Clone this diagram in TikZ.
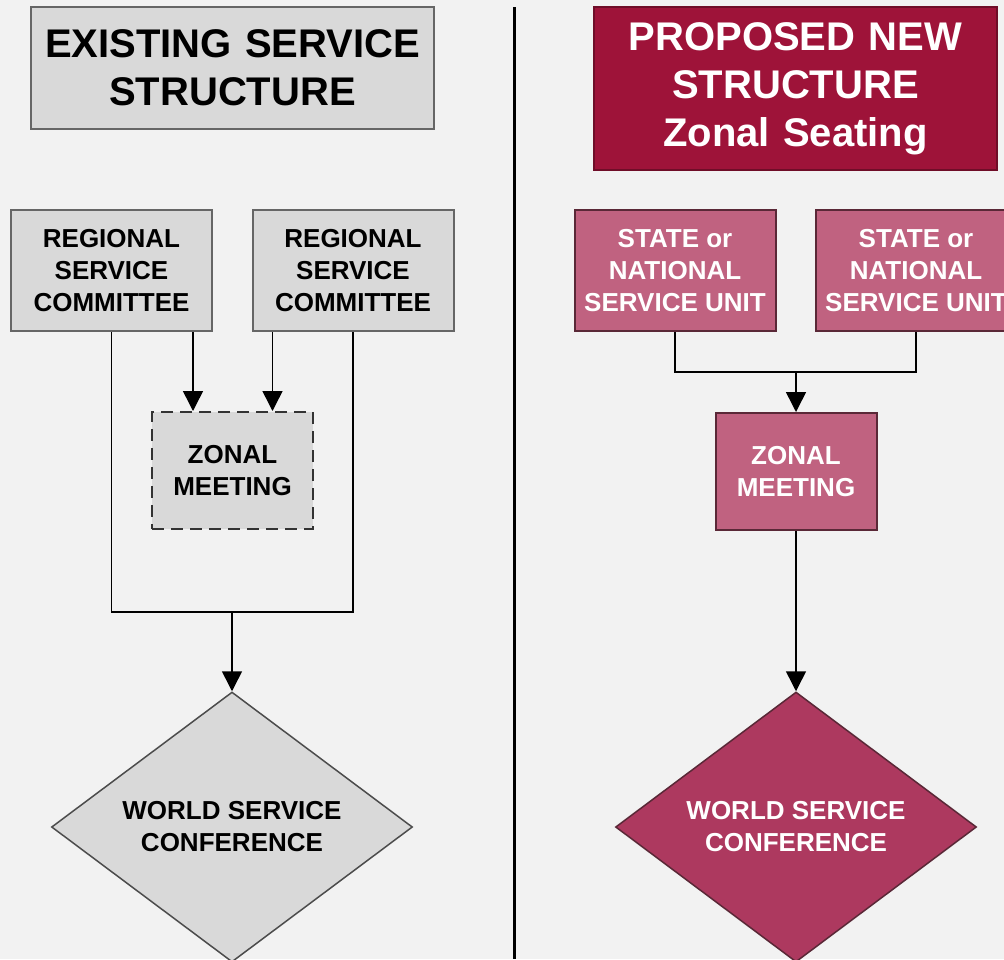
\documentclass[tikz,border=0pt]{standalone}
\usepackage{fontspec}
\setmainfont{Liberation Sans}
\usetikzlibrary{shapes.geometric,arrows.meta}

\definecolor{bgcol}{HTML}{F2F2F2}
\definecolor{greyfill}{HTML}{D9D9D9}
\definecolor{greyline}{HTML}{666666}
\definecolor{titlered}{HTML}{9E1339}
\definecolor{unitpink}{HTML}{C06280}
\definecolor{confred}{HTML}{AD395F}
\definecolor{pinkline}{HTML}{5A2837}

\tikzset{
  titlebox/.style={draw, line width=2pt, rectangle, inner sep=0pt, align=center,
    font=\bfseries\fontsize{40}{48}\selectfont, minimum width=403, text width=400},
  unitbox/.style={draw, line width=2pt, rectangle, inner sep=0pt, align=center,
    font=\bfseries\fontsize{26}{32}\selectfont, minimum width=201, minimum height=121},
  zonebox/.style={unitbox, minimum width=161, minimum height=117},
  confbox/.style={draw, line width=1.5pt, diamond, aspect=1.34, inner sep=0pt, align=center,
    font=\bfseries\fontsize{26}{32}\selectfont, minimum width=361, minimum height=270},
  greyset/.style={fill=greyfill, draw=greyline, text=black},
  pinkset/.style={fill=unitpink, draw=pinkline, text=white},
  link/.style={line width=1.5pt, draw=black},
  arr/.style={link, -{Triangle[width=20pt,length=20pt]}}
}

\begin{document}
\begin{tikzpicture}[x=1pt,y=-1pt]
\clip (0,0) rectangle (1004,959);
\fill[bgcol] (0,0) rectangle (1004,959);

% divider
\draw[line width=3pt] (514,7) -- (514,959);

% left: existing structure
\node[titlebox, greyset, minimum height=122] (title1) at (232.5,68) {EXISTING SERVICE\\STRUCTURE};
\node[unitbox, greyset] (reg1) at (111.5,270.5) {REGIONAL\\SERVICE\\COMMITTEE};
\node[unitbox, greyset] (reg2) at (353,270.5) {REGIONAL\\SERVICE\\COMMITTEE};
\node[zonebox, greyset, dash pattern=on 12pt off 7pt, draw=black!80] (zone1) at (232.5,470.5) {ZONAL\\MEETING};
\node[confbox, greyset, draw=black!70] (wsc1) at (232,827) {WORLD SERVICE\\CONFERENCE};

\coordinate (join1) at (232,612);
\draw[arr] ([xshift=-20]reg1.south east) -- ([xshift=-20]reg1.south east |- zone1.north);
\draw[arr] ([xshift=21]reg2.south west) -- ([xshift=21]reg2.south west |- zone1.north);
\draw[link] (reg1.south) |- (join1) -| (reg2.south);
\draw[arr] (join1) -- (wsc1.north);

% right: proposed structure
\node[titlebox, fill=titlered, draw=titlered!70!black, text=white, minimum height=163] (title2) at (795.5,88.5) {PROPOSED NEW\\STRUCTURE\\Zonal Seating};
\node[unitbox, pinkset] (st1) at (675,270.5) {STATE or\\NATIONAL\\SERVICE UNIT};
\node[unitbox, pinkset] (st2) at (916,270.5) {STATE or\\NATIONAL\\SERVICE UNIT};
\node[zonebox, pinkset] (zone2) at (796,471.5) {ZONAL\\MEETING};
\node[confbox, fill=confred, draw=pinkline, text=white] (wsc2) at (796,827) {WORLD SERVICE\\CONFERENCE};

\coordinate (join2) at (796,372);
\draw[link] (st1.south) |- (join2) -| (st2.south);
\draw[arr] (join2) -- (zone2.north);
\draw[arr] (zone2.south) -- (wsc2.north);

\end{tikzpicture}
\end{document}
